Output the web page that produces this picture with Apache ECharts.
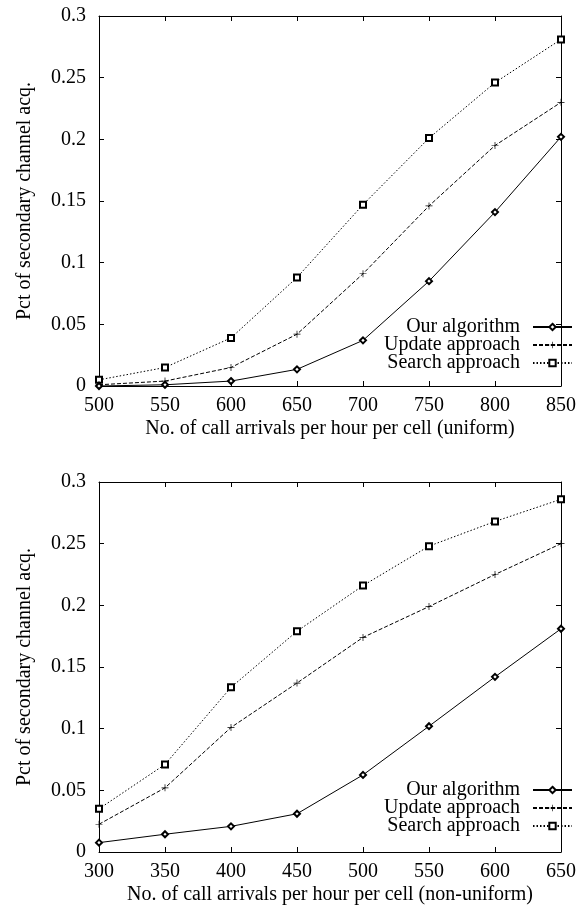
<!DOCTYPE html>
<html>
<head>
<meta charset="utf-8">
<script src="https://cdn.jsdelivr.net/npm/echarts@6/dist/echarts.min.js"></script>
<style>
  html, body { margin: 0; padding: 0; background: #fff; }
  #main { width: 584px; height: 906px; }
</style>
</head>
<body>
<div id="main"></div>
<script>
// top chart (uniform)
var xUniform = [500, 550, 600, 650, 700, 750, 800, 850];
var oursUniform = [0.0, 0.001, 0.004, 0.0135, 0.037, 0.085, 0.141, 0.202];
var updateUniform = [0.001, 0.004, 0.015, 0.042, 0.091, 0.146, 0.195, 0.230];
var searchUniform = [0.005, 0.015, 0.039, 0.088, 0.147, 0.201, 0.246, 0.281];

// bottom chart (non-uniform)
var xNonUniform = [300, 350, 400, 450, 500, 550, 600, 650];
var oursNonUniform = [0.0076, 0.0144, 0.0208, 0.031, 0.0625, 0.102, 0.142, 0.181];
var updateNonUniform = [0.0225, 0.052, 0.101, 0.137, 0.174, 0.199, 0.225, 0.250];
var searchNonUniform = [0.035, 0.071, 0.1335, 0.179, 0.216, 0.248, 0.268, 0.286];

var seriesNames = ['Our algorithm', 'Update approach', 'Search approach'];
var xNames = ['No. of call arrivals per hour per cell (uniform)',
              'No. of call arrivals per hour per cell (non-uniform)'];
var yName = 'Pct of secondary channel acq.';

var FONT = 'Liberation Serif';
var plusPath = 'path://M0,4.5H10V5.5H0Z M4.5,0H5.5V10H4.5Z';

function pairs(xs, ys) {
    return xs.map(function (x, i) { return [x, ys[i]]; });
}

function yLabel(v) {
    return String(Math.round(v * 100) / 100);
}

var lineStyles = [
    { type: 'solid', symbol: 'emptyDiamond', size: 6 },
    { type: [4, 2], symbol: plusPath, size: 7 },
    { type: [1.5, 2], symbol: 'emptyRect', size: 6 }
];

function makeSeries(name, idx, data, axisIdx) {
    var s = lineStyles[idx];
    return {
        name: name,
        type: 'line',
        xAxisIndex: axisIdx,
        yAxisIndex: axisIdx,
        data: data,
        symbol: s.symbol,
        symbolSize: s.size,
        showAllSymbol: true,
        color: '#000',
        lineStyle: { color: '#000', width: 1, type: s.type },
        itemStyle: { color: '#000', borderWidth: 0.8 },
        emphasis: { disabled: true },
        z: 5 - idx
    };
}

function xAxisFor(gridIdx, min, max, name, mirror) {
    return {
        type: 'value',
        gridIndex: gridIdx,
        position: mirror ? 'top' : 'bottom',
        min: min, max: max, interval: 50,
        name: mirror ? '' : name,
        nameLocation: 'middle',
        nameGap: 33,
        nameTextStyle: { fontFamily: FONT, fontSize: 20, color: '#000' },
        axisLine: { onZero: false, lineStyle: { color: '#000', width: 1 } },
        axisTick: { inside: true, length: 5, lineStyle: { color: '#000' } },
        axisLabel: { show: !mirror, fontFamily: FONT, fontSize: 20, color: '#000', margin: 10 },
        splitLine: { show: false }
    };
}

function yAxisFor(gridIdx, mirror) {
    return {
        type: 'value',
        gridIndex: gridIdx,
        position: mirror ? 'right' : 'left',
        min: 0, max: 0.3, interval: 0.05,
        name: mirror ? '' : yName,
        nameLocation: 'middle',
        nameGap: 64,
        nameTextStyle: { fontFamily: FONT, fontSize: 20, color: '#000' },
        axisLine: { onZero: false, lineStyle: { color: '#000', width: 1 } },
        axisTick: { inside: true, length: 5, lineStyle: { color: '#000' } },
        axisLabel: { show: !mirror, fontFamily: FONT, fontSize: 20, color: '#000', margin: 13, formatter: yLabel },
        splitLine: { show: false }
    };
}

function legendFor(top) {
    return {
        data: seriesNames,
        right: 6,
        top: top,
        orient: 'vertical',
        align: 'right',
        itemWidth: 39,
        itemHeight: 8,
        itemGap: -2,
        selectedMode: false,
        textStyle: { fontFamily: FONT, fontSize: 20, color: '#000', lineHeight: 18, padding: [0, 8, 0, 0] }
    };
}

var myChart = echarts.init(document.getElementById('main'));

var option = {
    animation: false,
    backgroundColor: '#fff',
    grid: [
        { left: 99, top: 16, width: 462, height: 370 },
        { left: 99, top: 482, width: 462, height: 370 }
    ],
    xAxis: [
        xAxisFor(0, 500, 850, xNames[0], false),
        xAxisFor(1, 300, 650, xNames[1], false),
        xAxisFor(0, 500, 850, '', true),
        xAxisFor(1, 300, 650, '', true)
    ],
    yAxis: [
        yAxisFor(0, false),
        yAxisFor(1, false),
        yAxisFor(0, true),
        yAxisFor(1, true)
    ],
    legend: [legendFor(312), legendFor(775)],
    series: [
        makeSeries(seriesNames[0], 0, pairs(xUniform, oursUniform), 0),
        makeSeries(seriesNames[1], 1, pairs(xUniform, updateUniform), 0),
        makeSeries(seriesNames[2], 2, pairs(xUniform, searchUniform), 0),
        makeSeries(seriesNames[0], 0, pairs(xNonUniform, oursNonUniform), 1),
        makeSeries(seriesNames[1], 1, pairs(xNonUniform, updateNonUniform), 1),
        makeSeries(seriesNames[2], 2, pairs(xNonUniform, searchNonUniform), 1)
    ]
};

myChart.setOption(option);
</script>
</body>
</html>
